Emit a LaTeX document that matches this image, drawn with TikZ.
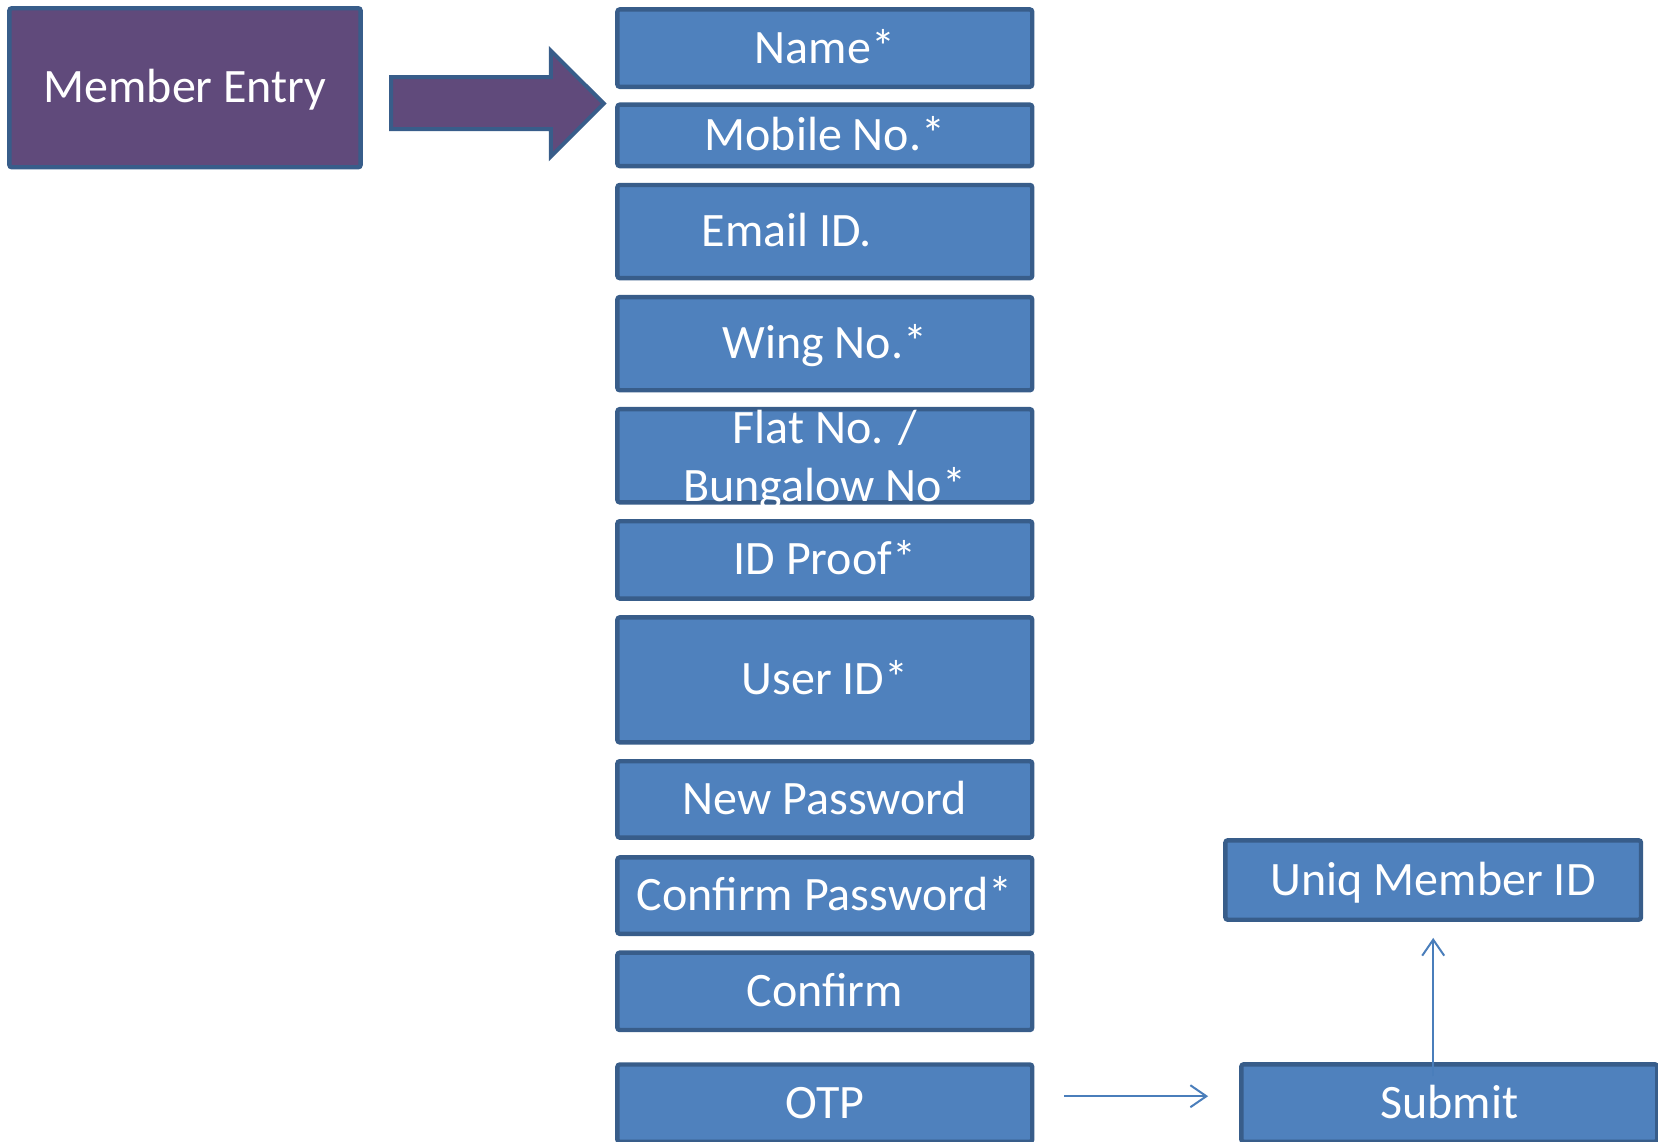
\documentclass[tikz,border=0pt]{standalone}
\usepackage{fontspec}
\setmainfont{Carlito}
\usetikzlibrary{arrows.meta}
\definecolor{boxfill}{HTML}{4F81BD}
\definecolor{boxdraw}{HTML}{385D8A}
\definecolor{purp}{HTML}{604A7B}
\definecolor{conncol}{HTML}{4A7EBB}
\tikzset{
  field/.style={draw=boxdraw, fill=boxfill, line width=2.2pt, rounded corners=1.2pt,
    text=white, font=\fontsize{24}{28.8}\selectfont, inner sep=0pt,
    minimum width=207.4pt, text height=18.5pt, text depth=3.5pt},
  purpbox/.style={field, fill=purp},
  fieldtext/.style={text=white, font=\fontsize{24}{28.8}\selectfont, inner sep=0pt, align=center},
  conn/.style={draw=conncol, line width=1pt, -{Straight Barb[length=8pt,width=11pt,line width=1pt]}}
}
\begin{document}
\begin{tikzpicture}[x=0.5pt,y=-0.5pt]
\useasboundingbox (0,0) rectangle (1658,1141);
\clip (0,0) rectangle (1658,1141);
\node[purpbox, minimum width=175.6pt, minimum height=79.5pt] (member) at (185,87.75) {Member Entry};
\filldraw[draw=boxdraw, fill=purp, line width=2pt, line join=miter]
  (391.2,77.2) -- (550.9,77.2) -- (550.9,50.8) -- (603.8,103.6) -- (550.9,156.5) -- (550.9,129) -- (391.2,129) -- cycle;
\node[field, minimum height=38.7pt] (name) at (824.8,48.1) {Name*};
\node[field, minimum height=30.7pt] (mobile) at (824.8,135.35) {Mobile No.*};
\node[field, minimum height=46.6pt] (email) at (824.8,231.55) {Email ID.\kern38pt};
\node[field, minimum height=46.6pt] (wing) at (824.8,343.65) {Wing No.*};
\node[field, minimum height=46.6pt] (flat) at (824.8,455.75) {};
\node[fieldtext] (flattext) at ([yshift=-2.2pt]flat.center) {Flat No. /\\Bungalow No*};
\node[field, minimum height=38.7pt] (idproof) at (824.8,559.9) {ID Proof*};
\node[field, minimum height=62.5pt] (userid) at (824.8,679.9) {User ID*};
\node[field, minimum height=38.2pt] (newpw) at (824.8,799.4) {New Password};
\node[field, minimum height=38.2pt] (confpw) at (824.8,895.6) {Confirm Password*};
\node[field, minimum height=38.7pt] (confirm) at (824.8,991.3) {Confirm};
\node[field, minimum height=38.7pt] (otp) at (824.8,1103.2) {OTP};
\node[field, minimum width=207.8pt, minimum height=39.7pt] (uniq) at (1433.2,880) {Uniq Member ID};
\node[field, minimum width=208pt, minimum height=38.7pt] (submit) at (1449.3,1103) {Submit};
\draw[conn, shorten <=15pt, shorten >=15.5pt] ([yshift=3.5pt]otp.east) -- ([yshift=3.5pt]otp.east -| submit.west);
\draw[conn, shorten >=8pt] ([yshift=-7pt]submit.north -| uniq.south) -- (uniq.south);
\end{tikzpicture}
\end{document}
